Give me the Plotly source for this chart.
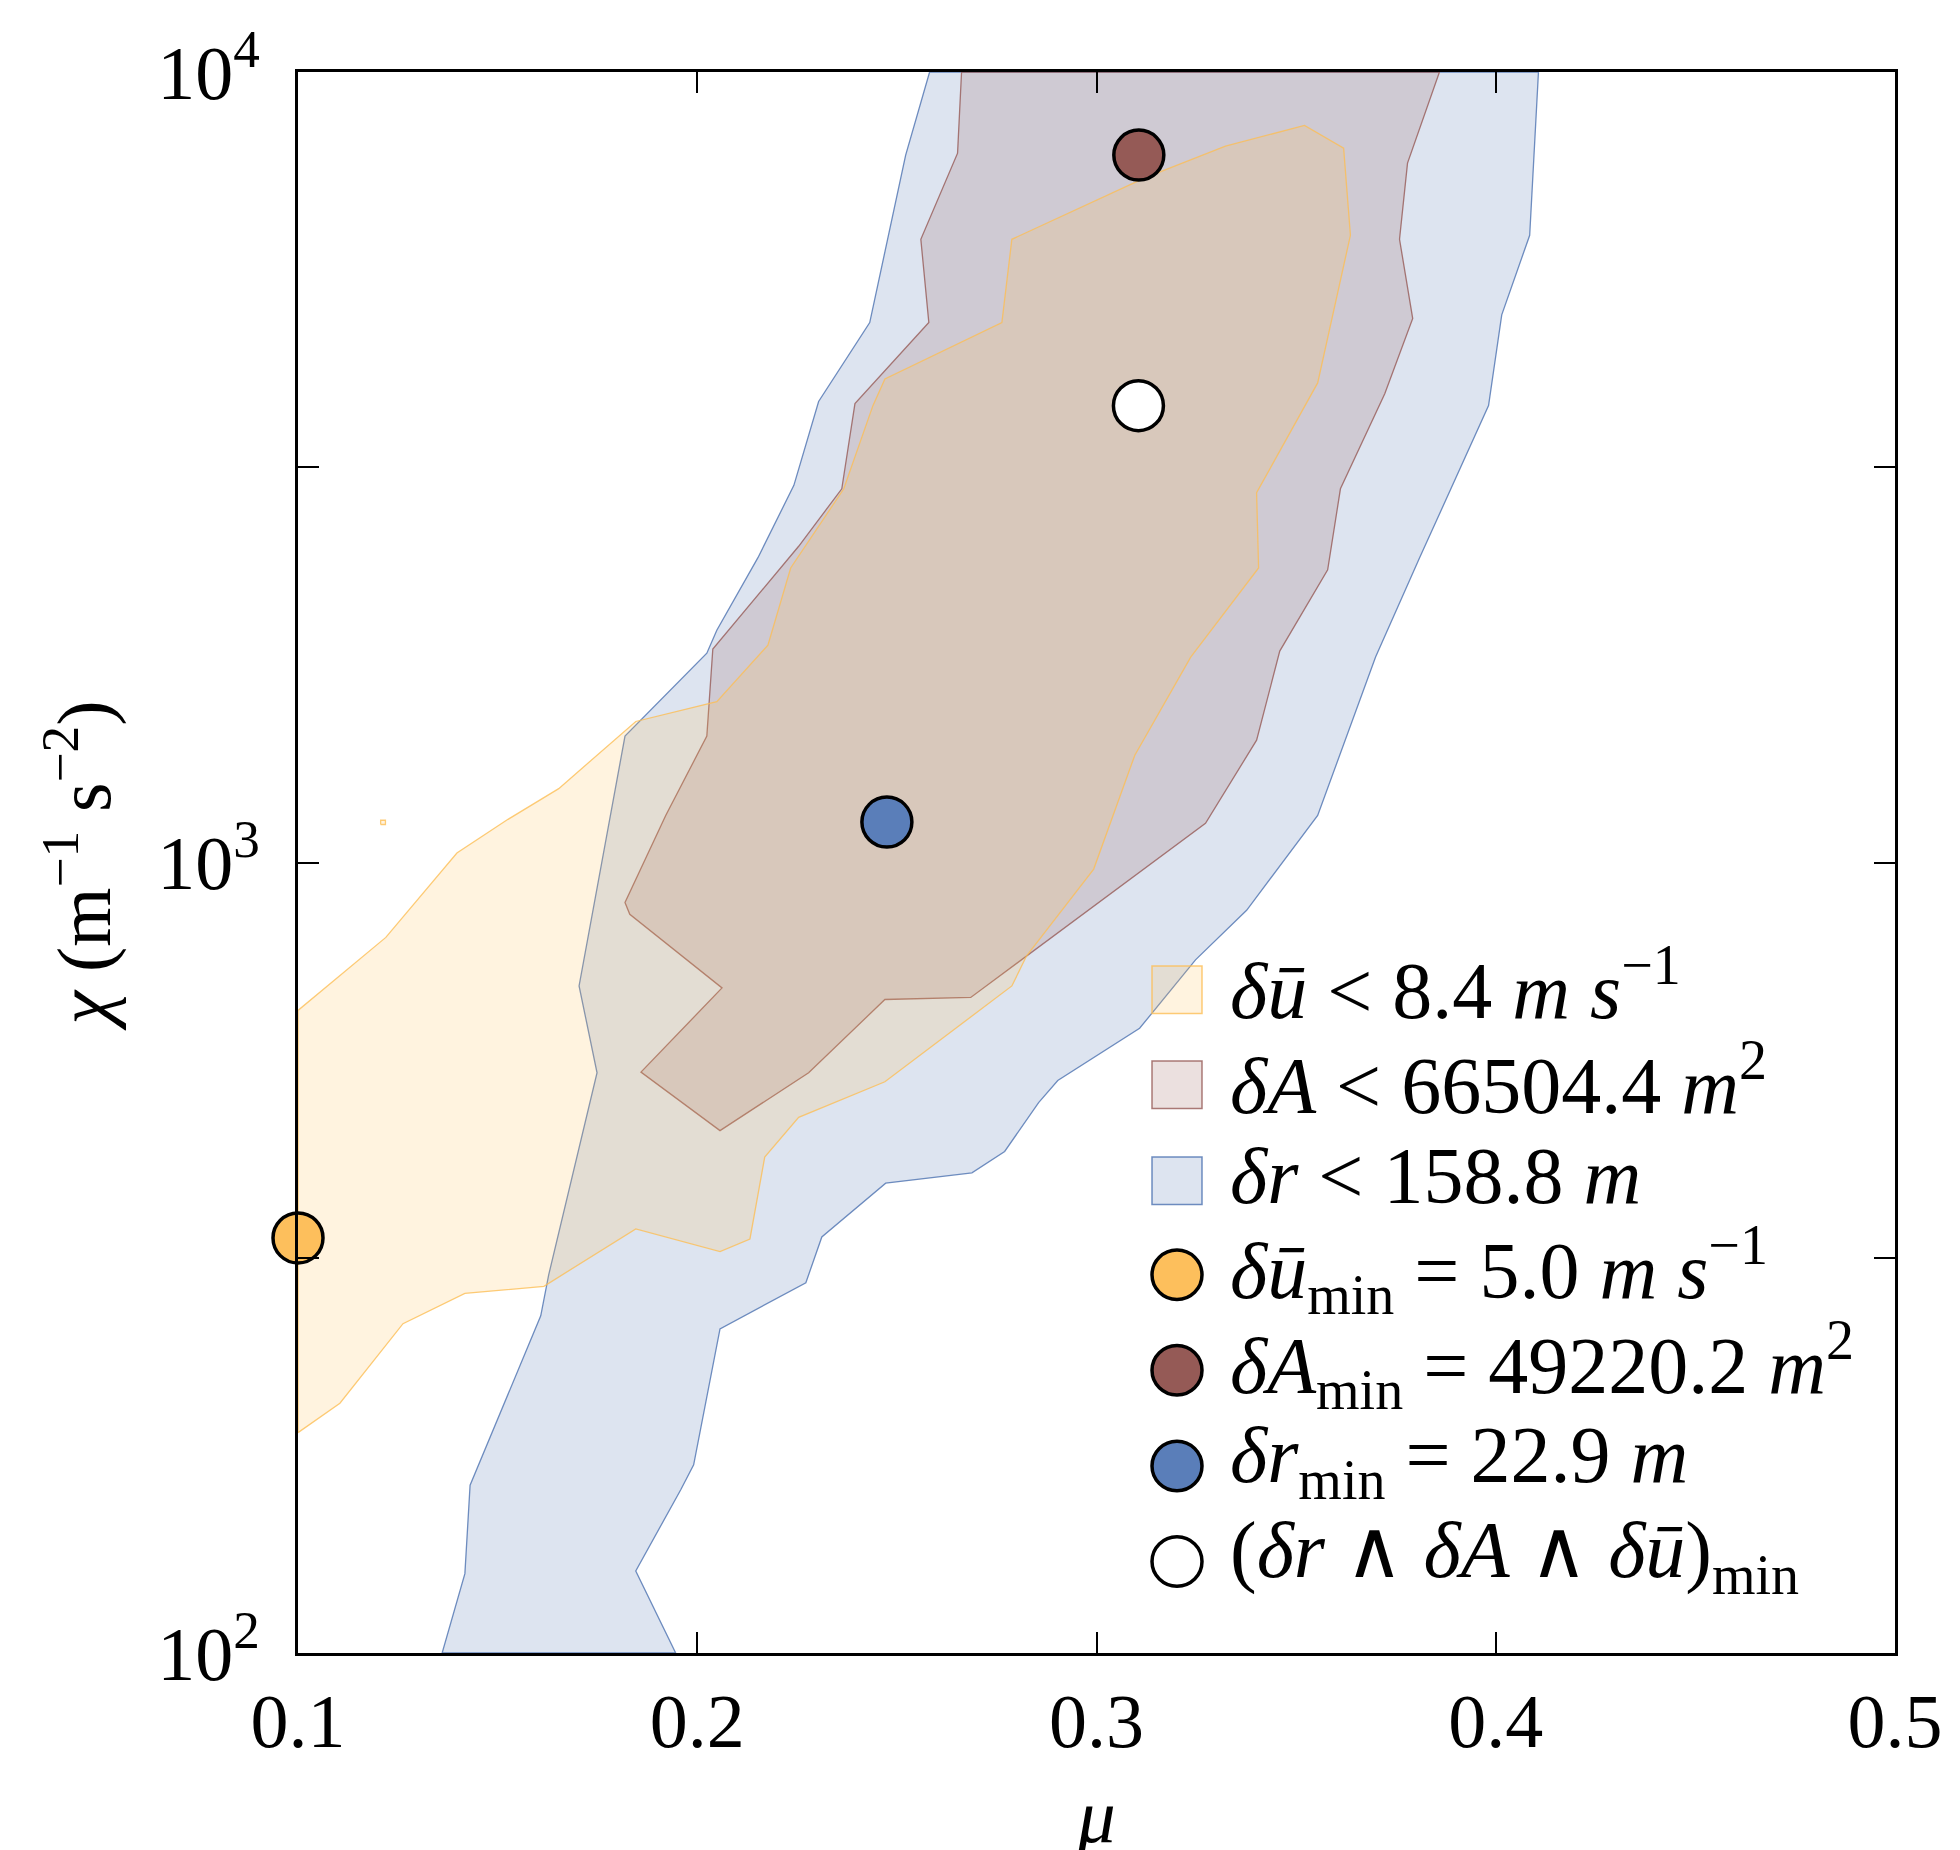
import plotly.graph_objects as go

# ---------------- data ----------------
mu_ticks = [0.1, 0.2, 0.3, 0.4, 0.5]
mu_tick_labels = ["0.1", "0.2", "0.3", "0.4", "0.5"]
chi_ticks = [100, 1000, 10000]
chi_tick_labels = ["10<sup>2</sup>", "10<sup>3</sup>", "10<sup>4</sup>"]
chi_minor_ticks = [316.23, 3162.3]

# region  delta r < 158.8 m  (blue)
r_mu = [0.2582, 0.2522, 0.2432, 0.2304, 0.2242, 0.2152, 0.2049, 0.2024, 0.1819, 0.1704,
        0.1749, 0.1628, 0.1608, 0.1431, 0.1418, 0.1361,
        0.1946, 0.1846, 0.1959, 0.1991, 0.2057, 0.2272, 0.2312, 0.2472, 0.2688, 0.2770,
        0.2855, 0.2903, 0.3108, 0.3248, 0.3376, 0.3554, 0.3699, 0.3809, 0.3982, 0.4015,
        0.4085, 0.4107]
r_chi = [10000, 7850, 4820, 3830, 3000, 2430, 1967, 1840, 1445, 698,
         542, 301, 267, 163, 126, 100,
         100, 127, 161, 173, 257, 294, 336, 393, 405, 431,
         497, 530, 617, 753, 870, 1147, 1819, 2427, 3784, 4930,
         6215, 10000]

# region  delta A < 66504.4 m^2  (brown)
A_mu = [0.2662, 0.3859, 0.3779, 0.3759, 0.3792, 0.3722, 0.3611, 0.3579, 0.3459, 0.3401,
        0.3273, 0.2993, 0.2725, 0.2685, 0.2470, 0.2279, 0.2057, 0.1859, 0.2062, 0.1831,
        0.1819, 0.1921, 0.2024, 0.2039, 0.2254, 0.2362, 0.2395, 0.2580, 0.2560, 0.2652]
A_chi = [10000, 10000, 7670, 6143, 4877, 3917, 2970, 2345, 1851, 1428,
         1121, 880, 698, 675, 671, 542, 458, 543, 694, 860,
         890, 1147, 1445, 1862, 2512, 2970, 3806, 4820, 6143, 7894]

# region  delta u < 8.4 m/s  (orange)
u_mu = [0.1, 0.1220, 0.1398, 0.1526, 0.1653, 0.1846, 0.2049, 0.2177, 0.2234, 0.2277,
        0.2367, 0.2440, 0.2470, 0.2763, 0.2788, 0.3121, 0.3323, 0.3521, 0.3619, 0.3636,
        0.3554, 0.3401, 0.3406, 0.3236, 0.3096, 0.2993, 0.2825, 0.2788, 0.2470, 0.2254,
        0.2169, 0.2132, 0.2057, 0.1846, 0.1616, 0.1418, 0.1263, 0.1105, 0.1]
u_chi = [650, 804, 1028, 1134, 1240, 1508, 1598, 1883, 2358, 2541,
         2970, 3784, 4090, 4820, 6143, 7345, 8056, 8560, 8010, 6215,
         4043, 2936, 2358, 1819, 1367, 981, 762, 698, 528, 476,
         424, 334, 322, 344, 291, 285, 261, 207, 190]
u_dot_mu = [0.1207, 0.1219, 0.1219, 0.1207]
u_dot_chi = [1117, 1117, 1131, 1131]

# minima
min_names = ["u", "A", "r", "all"]
min_mu = [0.1, 0.3106, 0.2475, 0.3105]
min_chi = [335, 7850, 1125, 3784]

legend_texts = [
    "<i>δū</i> &lt; 8.4 <i>m s</i><sup>−1</sup>",
    "<i>δA</i> &lt; 66504.4 <i>m</i><sup>2</sup>",
    "<i>δr</i> &lt; 158.8 <i>m</i>",
    "<i>δū</i><sub>min</sub> = 5.0 <i>m s</i><sup>−1</sup>",
    "<i>δA</i><sub>min</sub> = 49220.2 <i>m</i><sup>2</sup>",
    "<i>δr</i><sub>min</sub> = 22.9 <i>m</i>",
    "(<i>δr</i> ∧ <i>δA</i> ∧ <i>δū</i>)<sub>min</sub>",
]

# ---------------- styles ----------------
ORANGE = (253, 190, 85)
BROWN = (150, 90, 86)
BLUE = (76, 114, 176)


def rgba(c, a):
    return "rgba(%d,%d,%d,%.3f)" % (c[0], c[1], c[2], a)


FILL_A = 0.19
LINE_A = 0.8
marker_colors = {"u": "#FDBF5C", "A": "#955A56", "r": "#5A7EB9", "all": "#FFFFFF"}

FONT = "Liberation Serif, DejaVu Serif, Times New Roman, serif"
FS = 76
FS_LEG = 80

fig = go.Figure()

for mu, chi, col in [(r_mu, r_chi, BLUE), (A_mu, A_chi, BROWN),
                     (u_mu, u_chi, ORANGE), (u_dot_mu, u_dot_chi, ORANGE)]:
    fig.add_trace(go.Scatter(
        x=mu + [mu[0]], y=chi + [chi[0]], mode="lines", fill="toself",
        fillcolor=rgba(col, FILL_A), line=dict(color=rgba(col, LINE_A), width=1.3),
        hoverinfo="skip", showlegend=False))

for name, m, c in zip(min_names, min_mu, min_chi):
    fig.add_trace(go.Scatter(
        x=[m], y=[c], mode="markers", cliponaxis=False, showlegend=False,
        marker=dict(size=50, color=marker_colors[name], line=dict(color="black", width=3.5))))

# ---------------- plot area geometry (px) ----------------
W, H = 1960, 1850
L, R, T, B = 290, 73, 59, 194
PW = W - L - R
PH = H - T - B


def px(X):
    return (X - L) / PW


def py(Y):
    return (H - B - Y) / PH


# ---------------- manual legend ----------------
leg_sym_x = 1169
leg_sym_w = 50
leg_sym_h = 48
leg_text_x = 1220
leg_text_dy = -5
leg_rows = [986, 1082, 1179, 1274, 1370.5, 1467, 1563.5]

shapes = []
annotations = []
patch_cols = [ORANGE, BROWN, BLUE]
for i in range(3):
    yc = leg_rows[i]
    shapes.append(dict(type="rect", xref="paper", yref="paper",
                       x0=px(leg_sym_x - leg_sym_w / 2), x1=px(leg_sym_x + leg_sym_w / 2),
                       y0=py(yc + leg_sym_h / 2), y1=py(yc - leg_sym_h / 2),
                       fillcolor=rgba(patch_cols[i], FILL_A),
                       line=dict(color=rgba(patch_cols[i], LINE_A), width=1.5)))
circ_d = 50
for j, name in enumerate(min_names):
    yc = leg_rows[3 + j]
    shapes.append(dict(type="circle", xref="paper", yref="paper",
                       x0=px(leg_sym_x - circ_d / 2), x1=px(leg_sym_x + circ_d / 2),
                       y0=py(yc + circ_d / 2), y1=py(yc - circ_d / 2),
                       fillcolor=marker_colors[name], line=dict(color="black", width=3.5)))
for i, txt in enumerate(legend_texts):
    annotations.append(dict(text=txt, xref="paper", yref="paper", x=px(leg_text_x),
                            y=py(leg_rows[i] + leg_text_dy), xanchor="left", yanchor="middle",
                            showarrow=False, font=dict(family=FONT, size=FS_LEG, color="black")))

axis_common = dict(ticks="inside", ticklen=21, tickwidth=2, tickcolor="black",
                   showline=True, linewidth=3, linecolor="black", mirror="ticks",
                   showgrid=False, zeroline=False,
                   tickfont=dict(family=FONT, size=FS, color="black"))

fig.update_layout(
    width=W, height=H, margin=dict(l=L, r=R, t=T, b=B),
    paper_bgcolor="white", plot_bgcolor="white", showlegend=False,
    font=dict(family=FONT, size=FS, color="black"),
    xaxis=dict(range=[0.1, 0.5], tickvals=mu_ticks, ticktext=mu_tick_labels,
               title=dict(text="<i>μ</i>", standoff=30, font=dict(family=FONT, size=FS)),
               **axis_common),
    yaxis=dict(type="log", range=[2, 4], tickvals=chi_ticks, ticktext=chi_tick_labels,
               ticklabelstandoff=20,
               minor=dict(tickvals=chi_minor_ticks, ticks="inside", ticklen=21,
                          tickwidth=2, tickcolor="black", showgrid=False),
               title=dict(text="<i>χ</i> (m<sup>−1</sup> s<sup>−2</sup>)", standoff=22,
                          font=dict(family=FONT, size=FS)),
               **axis_common),
    shapes=shapes, annotations=annotations,
)

fig.write_html("out.html")
